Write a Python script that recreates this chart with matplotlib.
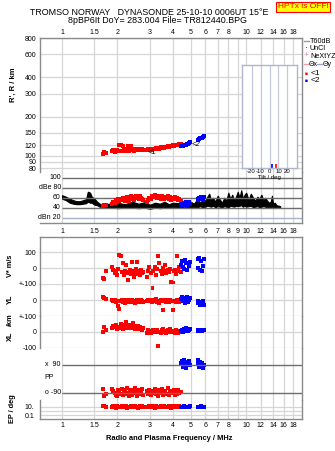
import matplotlib
matplotlib.use('Agg')
import matplotlib.pyplot as plt
from matplotlib.ticker import FixedLocator, NullLocator, NullFormatter
from matplotlib.lines import Line2D

plt.rcParams['font.family'] = ['Liberation Sans', 'DejaVu Sans']

# ---------------- data ----------------
title1 = "TROMSO NORWAY   DYNASONDE 25-10-10 0006UT 15\u00b0E"
title2 = "8pBP6It DoY= 283.004 File= TR812440.BPG"

grid_freqs = [1, 1.5, 2, 3, 4, 5, 6, 7, 8, 9, 10, 12, 14, 16, 18]
top_freq_labels = ['1', '1.5', '2', '3', '4', '5', '6', '7', '8', '', '10', '12', '14', '16', '18']
mid_freq_labels = ['1', '1.5', '2', '3', '4', '5', '6', '7', '8', '9', '10', '12', '14', '16', '18']
bot_freq_labels = top_freq_labels

height_ticks = [80, 90, 100, 120, 150, 200, 300, 400, 600, 800]

# echo trace <1 (red)
red_f = [1.67, 1.70, 1.74,
         1.87, 1.90, 1.93, 1.96, 1.99, 2.02, 2.05, 2.08, 2.11, 2.14, 2.17, 2.20, 2.23, 2.26, 2.29, 2.32,
         2.35, 2.38, 2.41, 2.44, 2.47, 2.50, 2.53, 2.56, 2.59, 2.62, 2.65, 2.68, 2.71, 2.74,
         2.88, 2.93, 2.98, 3.03, 3.08, 3.13, 3.18, 3.23, 3.28, 3.33, 3.38, 3.43, 3.48, 3.53, 3.58,
         3.63, 3.68, 3.74, 3.80, 3.86, 3.92, 3.98, 4.04, 4.10, 4.16, 4.22, 4.28, 4.34, 4.40]
red_h = [104, 107, 105,
         108, 110, 107, 109, 111, 108, 120, 121, 109, 119, 111, 108, 110, 112, 118, 109,
         111, 119, 110, 112, 109, 111, 113, 110, 112, 110, 113, 111, 112, 110,
         111, 113, 110, 112, 111, 113, 112, 114, 112, 115, 113, 116, 114, 116, 115,
         117, 116, 118, 117, 119, 118, 120, 119, 121, 120, 122, 121, 124, 123]
red_db = [44, 46, 45,
          48, 52, 50, 55, 52, 57, 54, 58, 55, 60, 56, 53, 59, 62, 57, 54,
          60, 63, 58, 61, 56, 62, 64, 59, 61, 57, 63, 60, 58, 55,
          52, 56, 60, 58, 63, 61, 65, 62, 59, 64, 61, 57, 63, 60, 58,
          62, 59, 63, 57, 61, 56, 60, 58, 62, 57, 60, 55, 58, 54]
red_vstar = [-62, -70, -15,
             10, -10, -32, -20, -40, -5, 85, 78, -25, 32, -45, -15, 21, -30, -74, -22,
             -10, -38, 36, -18, -57, -28, -8, 40, -35, -20, -45, -12, -30, -22,
             -53, -15, 5, -30, -125, -20, 10, -40, -8, 79, 32, -21, -35, 0, -15,
             20, -30, -10, -25, -5, -85, -96, -20, -10, -35, 74, -15, 5, -25]
red_yl = [21, 15, 5,
          2, -8, 0, -12, -4, -38, -53, -6, 3, -10, -2, -15, -5, 4, -9, -1,
          -14, -6, 2, -10, -3, -18, -7, 1, -12, -4, -9, 0, -6, -11,
          -5, 3, -8, -2, -14, 0, -6, 5, -10, -3, -15, 2, -7, -63, -4,
          4, -9, -2, -12, 1, -6, -63, -8, -3, -11, 0, -7, -13, -5]
red_xl = [0, 34, 12,
          25, 38, 30, 45, 22, 35, 28, 50, 33, 20, 42, 31, 66, 26, 38, 29,
          44, 24, 35, 55, 30, 21, 40, 27, 36, 18, 32, 25, 15, 28,
          -8, 10, 2, -5, 8, 15, -2, 5, 12, -89, 3, -6, 10, 18, 0,
          7, -4, 12, 2, 20, -3, 9, 5, -7, 14, 1, -5, 8, 3]
red_pp = [-66, -109, -95,
          -62, -75, -88, -100, -110, -70, -80, -95, -65, -105, -85, -72, -98, -60, -90, -112,
          -78, -68, -102, -84, -93, -58, -76, -108, -88, -70, -96, -82, -64, -100,
          -80, -95, -70, -105, -88, -75, -62, -98, -85, -110, -72, -90, -66, -100, -82,
          -78, -94, -60, -105, -86, -74, -92, -68, -102, -80, -96, -72, -88, -84]
red_ep = [14, 12, 9,
          8, 12, 10, 6, 14, 9, 11, 7, 13, 10, 15, 8, 12, 6, 10, 11,
          9, 13, 7, 12, 10, 14, 8, 11, 6, 9, 12, 10, 15, 8,
          11, 7, 13, 9, 12, 10, 6, 14, 8, 11, 9, 13, 10, 7, 12,
          9, 11, 8, 14, 10, 6, 12, 9, 11, 13, 8, 10, 12, 9]

# echo trace <2 (blue)
blue_f = [4.45, 4.50, 4.55, 4.60, 4.65, 4.70, 4.76, 4.82, 4.88, 4.95,
          5.45, 5.50, 5.55, 5.62, 5.68, 5.75, 5.82, 5.90]
blue_h = [118, 119, 119, 120, 121, 122, 123, 124, 125, 127,
          132, 133, 134, 136, 137, 138, 140, 142]
blue_db = [46, 48, 45, 50, 47, 52, 49, 46, 51, 48,
           58, 55, 60, 57, 62, 59, 56, 61]
blue_vstar = [20, 45, 10, -5, 53, 30, -10, 35, 15, 40,
              0, 57, 64, -11, 43, -21, 11, 60]
blue_yl = [10, 21, -5, 15, -15, 5, 18, -10, 0, 12,
           -6, -20, -12, -32, -15, -25, -8, -28]
blue_xl = [5, 15, 2, 20, 8, 23, 10, 4, 12, 18,
           8, 10, 12, 8, 10, 9, 11, 10]
blue_pp = [100, 115, 80, 122, 95, 71, 108, 88, 118, 92,
           120, 95, 78, 110, 85, 102, 72, 90]
blue_ep = [9, 11, 10, 12, 8, 10, 11, 9, 10, 12,
           10, 9, 11, 10, 12, 8, 10, 11]

# noise level T60dB (envelope of black trace)
noise_f = [1.00, 1.05, 1.10, 1.15, 1.20, 1.25, 1.30, 1.35, 1.38, 1.42, 1.45, 1.50, 1.55, 1.60,
           1.70, 1.80, 1.90, 2.00, 2.20, 2.40, 2.60, 2.80, 3.00, 3.20, 3.40, 3.60, 3.80, 4.00,
           4.30, 4.60,
           5.0, 5.2, 5.4, 5.6, 5.8, 6.0, 6.15, 6.3, 6.45, 6.6, 6.8, 7.0, 7.2, 7.4, 7.6, 7.8,
           8.0, 8.2, 8.4, 8.6, 8.8, 9.0, 9.2, 9.4, 9.6, 9.8, 10.0, 10.3, 10.6, 10.9, 11.2, 11.5,
           11.8, 12.1, 12.4, 12.7, 13.0, 13.3, 13.6, 13.8, 14.0, 14.3, 14.6, 15.0, 15.3]
noise_lo = [58, 55, 50, 48, 47, 47, 48, 49, 52, 50, 50, 46, 45, 42,
            41, 40, 40, 39, 40, 40, 39, 40, 38, 40, 39, 40, 40, 41,
            40, 42,
            41, 42, 40, 43, 41, 42, 44, 43, 42, 44, 41, 43, 42, 41, 43, 42,
            40, 44, 43, 42, 44, 43, 44, 45, 42, 44, 42, 43, 44, 41, 42, 43,
            41, 42, 43, 42, 41, 42, 41, 42, 41, 41, 41, 41, 41]
noise_hi = [65, 62, 58, 55, 53, 53, 55, 57, 72, 70, 62, 58, 52, 48,
            46, 48, 46, 50, 47, 52, 48, 51, 46, 50, 48, 52, 47, 50,
            49, 50,
            52, 48, 56, 50, 58, 54, 62, 68, 55, 60, 52, 64, 56, 50, 60, 54,
            70, 58, 66, 55, 62, 72, 60, 75, 58, 66, 70, 56, 68, 60, 54, 62,
            58, 66, 55, 60, 54, 50, 52, 64, 48, 50, 45, 44, 43]

db_ticks = [100, 80, 60, 40, 20]
db_labels = ['100', 'dBe 80', '60', '40', 'dBn 20']

tilt_deg = [7.0, 2.5]
tilt_count = [1, 1]

legend_labels = ['T60dB', 'UnCl', 'NeXtYZ', '\u0398x', '\u0398y', '<1', '<2']

# ---------------- layout helpers ----------------
W, H = 335, 451
fig = plt.figure(figsize=(W / 100, H / 100), dpi=100)


def rect(x0, y0, x1, y1):
    return [x0 / W, 1 - y1 / H, (x1 - x0) / W, (y1 - y0) / H]


def fx(px):
    return px / W


def fy(py):
    return 1 - py / H


FMIN, FMAX = 0.759, 20.1
FRAME = '#8a8a8a'
GRID = '#d6d6d6'
DARK = '#6e6e6e'
RED = '#ff0000'
BLUE = '#0000ff'
TS = 5.0
MS = 4.8


def base(ax, spines=('left', 'right', 'top', 'bottom')):
    ax.set_xscale('log')
    ax.set_xlim(FMIN, FMAX)
    ax.xaxis.set_major_locator(FixedLocator(grid_freqs))
    ax.xaxis.set_minor_locator(NullLocator())
    ax.xaxis.set_major_formatter(NullFormatter())
    ax.xaxis.set_minor_formatter(NullFormatter())
    ax.yaxis.set_minor_locator(NullLocator())
    ax.tick_params(axis='both', which='both', length=0, labelsize=TS, pad=2.5)
    ax.grid(True, axis='x', color=GRID, lw=0.9)
    ax.set_axisbelow(True)
    for k, s in ax.spines.items():
        s.set_color(FRAME)
        s.set_linewidth(1.0)
        s.set_visible(k in spines)
    ax.patch.set_alpha(0)


# ---------------- titles ----------------
fig.text(fx(149), fy(12.3), title1, fontsize=6.4, ha='center', va='center')
fig.text(fx(157), fy(20.5), title2, fontsize=6.4, ha='center', va='center')
fig.text(fx(303), fy(7), 'HPTx is OFF!', fontsize=6.0, color=RED, ha='center', va='center',
         bbox=dict(facecolor='#ffff00', edgecolor=RED, pad=1.2, lw=0.8))

# ---------------- height panel ----------------
axh = fig.add_axes(rect(40, 38, 302, 172))
base(axh, spines=('left', 'right', 'top'))
axh.set_yscale('log')
axh.set_ylim(75, 803)
axh.yaxis.set_major_locator(FixedLocator(height_ticks))
axh.yaxis.set_minor_locator(NullLocator())
axh.set_yticklabels([str(v) for v in height_ticks])
axh.grid(True, axis='y', color=GRID, lw=0.9)
axh.xaxis.tick_top()
axh.set_xticks(grid_freqs, labels=top_freq_labels)
axh.tick_params(axis='x', pad=1.5)
axh.scatter(red_f, red_h, marker='s', s=MS, c=RED, linewidths=0)
axh.scatter(blue_f, blue_h, marker='s', s=MS, c=BLUE, linewidths=0)
axh.text(3.07, 106.5, '<1', fontsize=5.5, ha='center', va='center')
axh.text(5.34, 121, '<2', fontsize=5.5, ha='center', va='center', style='italic')
fig.text(fx(13), fy(85), "R', R / km", rotation=90, fontsize=5.5, fontweight='bold',
         ha='center', va='center')

# ---------------- amplitude panel ----------------
axd = fig.add_axes(rect(40, 172, 302, 223))
base(axd, spines=('right', 'bottom'))
axd.set_ylim(9.4, 111.4)
axd.set_yticks([])
for v in db_ticks:
    axd.hlines(v, 1.0, FMAX, color=DARK if v != 20 else '#a9b1cc', lw=1.0)
for v, lab in zip(db_ticks, db_labels):
    axd.text(0.985, v, lab, fontsize=TS, ha='right', va='center')
axd.fill_between(noise_f, noise_lo, noise_hi, color='black', lw=0.8)
axd.scatter(red_f, red_db, marker='s', s=MS, c=RED, linewidths=0, zorder=3)
axd.scatter(blue_f, blue_db, marker='s', s=MS, c=BLUE, linewidths=0, zorder=3)

# ---------------- tilt inset ----------------
axt = fig.add_axes(rect(241.7, 65, 297.3, 167.7))
axt.set_xlim(-31, 31)
axt.set_ylim(0, 28)
axt.set_xticks([-20, -10, 0, 10, 20], labels=['-20', '-10', '0', '10', '20'])
axt.set_yticks([])
axt.tick_params(length=0, labelsize=4.3, pad=1)
axt.grid(True, axis='x', color='#c4c9dc', lw=0.9)
for s in axt.spines.values():
    s.set_color('#b0b6cf')
    s.set_linewidth(1.0)
axt.patch.set_facecolor('white')
axt.vlines(tilt_deg, 0, tilt_count, colors=[RED, BLUE], lw=1.2)
axt.set_xlabel('Tilt / deg', fontsize=4.3, labelpad=0.5)

# ---------------- legend ----------------
ly = [41.3, 48.7, 56, 64, 73.3, 81]
fig.add_artist(Line2D([fx(303.5), fx(308.5)], [fy(ly[0])] * 2, color='#9a9a9a', lw=1.0))
fig.text(fx(310), fy(ly[0]), legend_labels[0], fontsize=5.2, va='center')
fig.text(fx(306), fy(ly[1]), '\u00b7', fontsize=6, va='center', ha='center')
fig.text(fx(310), fy(ly[1]), legend_labels[1], fontsize=5.2, va='center')
fig.text(fx(306), fy(ly[2]), '+', fontsize=6, va='center', ha='center', color='#e8849c')
fig.text(fx(310), fy(ly[2]), legend_labels[2], fontsize=5.2, va='center')
fig.add_artist(Line2D([fx(303.5), fx(308.5)], [fy(ly[3])] * 2, color='#e8a0a8', lw=1.0))
fig.text(fx(309), fy(ly[3]), legend_labels[3], fontsize=5.0, va='center')
fig.add_artist(Line2D([fx(317), fx(322)], [fy(ly[3])] * 2, color='#98a4c8', lw=1.0))
fig.text(fx(323), fy(ly[3]), legend_labels[4], fontsize=5.0, va='center')
fig.text(fx(306), fy(ly[4]), '\u25a0', fontsize=3.5, va='center', ha='center', color=RED)
fig.text(fx(311), fy(ly[4]), legend_labels[5], fontsize=6, va='center')
fig.text(fx(306), fy(ly[5]), '\u25a0', fontsize=3.5, va='center', ha='center', color=BLUE)
fig.text(fx(311), fy(ly[5]), legend_labels[6], fontsize=6, va='center')

# ---------------- V*, YL, XL panels ----------------
axV = fig.add_axes(rect(40, 236.7, 302, 284))
base(axV, spines=('left', 'right', 'top'))
axV.set_ylim(-100, 198.8)
axV.set_yticks([0, 100], labels=['0', '100'])
axV.grid(True, axis='y', color=GRID, lw=0.9)
axV.xaxis.tick_top()
axV.set_xticks(grid_freqs, labels=mid_freq_labels)
axV.tick_params(axis='x', pad=1.5)
axV.scatter(red_f, red_vstar, marker='s', s=MS, c=RED, linewidths=0, clip_on=False)
axV.scatter(blue_f, blue_vstar, marker='s', s=MS, c=BLUE, linewidths=0, clip_on=False)

axY = fig.add_axes(rect(40, 284, 302, 316.3))
base(axY, spines=('left', 'right'))
axY.set_ylim(-100, 100)
axY.set_yticks([-100, 0, 100], labels=['+-100', '0', '+-100'])
axY.grid(True, axis='y', color=GRID, lw=0.9)
axY.scatter(red_f, red_yl, marker='s', s=MS, c=RED, linewidths=0, clip_on=False)
axY.scatter(blue_f, blue_yl, marker='s', s=MS, c=BLUE, linewidths=0, clip_on=False)

axX = fig.add_axes(rect(40, 316.3, 302, 347.7))
base(axX, spines=('left', 'right'))
axX.set_ylim(-100, 100)
axX.set_yticks([-100, 0], labels=['-100', '0'])
axX.grid(True, axis='y', color=GRID, lw=0.9)
axX.scatter(red_f, red_xl, marker='s', s=MS, c=RED, linewidths=0, clip_on=False)
axX.scatter(blue_f, blue_xl, marker='s', s=MS, c=BLUE, linewidths=0, clip_on=False)

fig.text(fx(10), fy(266), 'V* m/s', rotation=90, fontsize=5.3, fontweight='bold', ha='center', va='center')
fig.text(fx(10), fy(299), 'YL', rotation=90, fontsize=5.3, fontweight='bold', ha='center', va='center')
fig.text(fx(10), fy(320), '/km', rotation=90, fontsize=5.3, fontweight='bold', ha='center', va='center')
fig.text(fx(10), fy(336), 'XL', rotation=90, fontsize=5.3, fontweight='bold', ha='center', va='center')

# ---------------- PP panel ----------------
axP = fig.add_axes(rect(40, 347.7, 302, 400))
base(axP, spines=('right',))
axP.set_ylim(-135, 201)
axP.set_yticks([])
axP.hlines([90, -90], 1.0, FMAX, color=DARK, lw=1.0)
axP.text(0.985, 90, 'x  90', fontsize=TS, ha='right', va='center')
axP.text(0.985, -90, 'o -90', fontsize=TS, ha='right', va='center')
axP.text(0.80, 12, 'PP', fontsize=TS, ha='left', va='center')
axP.scatter(red_f, red_pp, marker='s', s=MS, c=RED, linewidths=0, clip_on=False)
axP.scatter(blue_f, blue_pp, marker='s', s=MS, c=BLUE, linewidths=0, clip_on=False)

# ---------------- EP panel ----------------
axE = fig.add_axes(rect(40, 400, 302, 418.5))
base(axE, spines=('left', 'right', 'bottom'))
axE.set_yscale('log')
axE.set_ylim(0.018, 361)
axE.yaxis.set_major_locator(FixedLocator([0.1, 1, 10]))
axE.yaxis.set_minor_locator(NullLocator())
axE.set_yticklabels(['0.1', '', '10.'])
axE.grid(True, axis='y', color=GRID, lw=0.9)
axE.set_xticks(grid_freqs, labels=bot_freq_labels)
axE.tick_params(axis='x', pad=2.5)
axE.tick_params(axis='y', pad=4)
axE.scatter(red_f, red_ep, marker='s', s=MS, c=RED, linewidths=0, clip_on=False)
axE.scatter(blue_f, blue_ep, marker='s', s=MS, c=BLUE, linewidths=0, clip_on=False)
fig.text(fx(12), fy(409), 'EP / deg', rotation=90, fontsize=5.3, fontweight='bold', ha='center', va='center')
fig.text(fx(169.5), fy(439), 'Radio and Plasma Frequency / MHz', fontsize=5.4, fontweight='bold',
         ha='center', va='center')

fig.savefig('out.png', dpi=100)
